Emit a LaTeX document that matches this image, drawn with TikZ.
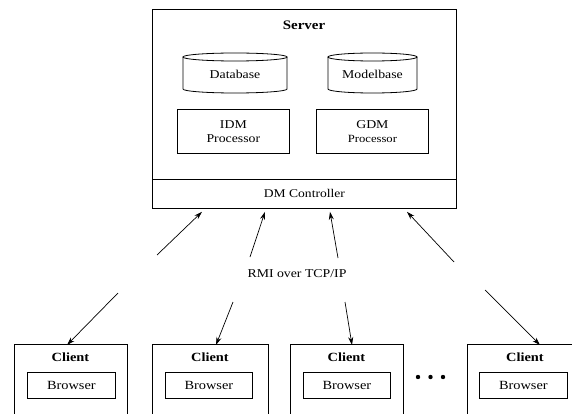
\documentclass[tikz,border=0pt]{standalone}
\usepackage{fontspec}
\setmainfont[FakeStretch=1.15]{Liberation Serif}
\usetikzlibrary{arrows.meta,calc}
\begin{document}
\begin{tikzpicture}[x=1pt,y=1pt,
  box/.style={draw, line width=0.8pt, inner sep=0pt, anchor=north west},
  drumline/.style={line width=0.8pt},
  link/.style={line width=0.7pt, -{Stealth[length=8pt,width=5pt]}},
  txt/.style={inner sep=0pt, align=center, font=\fontsize{12}{14}\selectfont},
  head/.style={inner sep=0pt, font=\fontsize{13}{15}\selectfont\bfseries}]
\useasboundingbox (0,0) rectangle (572,-414);
\clip (0,0) rectangle (572,-414);

% ---- server ----
\node[box, minimum width=304pt, minimum height=199pt] (srv) at (152,-9) {};
\node[box, minimum width=304pt, minimum height=29pt] (ctrl) at (152,-179) {};
\node[head] (srvlbl) at (304,-25) {Server};
\node[txt, font=\fontsize{11.8}{13}\selectfont] (ctrllbl) at (ctrl.center) {DM Controller};

% databases drawn as drums
\draw[drumline] (183,-57) -- (183,-89)
  arc[start angle=180,end angle=360,x radius=52pt,y radius=4pt] -- (287,-57);
\draw[drumline] (235,-57) ellipse[x radius=52pt,y radius=4pt];
\node[txt] (db) at (235,-74) {Database};

\draw[drumline] (328,-57) -- (328,-89)
  arc[start angle=180,end angle=360,x radius=44.5pt,y radius=4pt] -- (417,-57);
\draw[drumline] (372.5,-57) ellipse[x radius=44.5pt,y radius=4pt];
\node[txt] (mb) at (372.5,-74) {Modelbase};

% processors
\node[box, minimum width=112pt, minimum height=44pt] (idm) at (177,-109) {};
\node[txt] (idmlbl) at (idm.center) {IDM\\Processor};
\node[box, minimum width=112pt, minimum height=44pt] (gdm) at (316,-109) {};
\node[txt] (gdmlbl) at (gdm.center) {GDM\\{\fontsize{11}{13}\selectfont Processor}};

% ---- network ----
\node[txt] (rmi) at (297,-274) {RMI over TCP/IP};

\coordinate (u1) at (157,-255);
\coordinate (u2) at (250,-257);
\coordinate (u3) at (338,-258);
\coordinate (u4) at (454,-262);
\draw[link] (u1) -- ($(ctrl.south west)+(50,-3)$);
\draw[link] (u2) -- ($(ctrl.south west)+(113,-3)$);
\draw[link] (u3) -- ($(ctrl.south west)+(178,-3)$);
\draw[link] (u4) -- ($(ctrl.south west)+(255,-3)$);

% ---- clients ----
\foreach \i/\x/\w in {1/14/113, 2/152/116, 3/290/113, 4/467/116} {
  \node[box, minimum width=\w pt, minimum height=80pt] (cl\i) at (\x,-344) {};
  \node[head, font=\fontsize{12.5}{14}\selectfont\bfseries] (cl\i lbl) at ($(cl\i.north west)+(0.5*\w,-13)$) {Client};
}
\node[box, minimum width=88pt, minimum height=26pt] (br1) at (27,-372) {};
\node[box, minimum width=87pt, minimum height=26pt] (br2) at (165,-372) {};
\node[box, minimum width=87pt, minimum height=26pt] (br3) at (303,-372) {};
\node[box, minimum width=88pt, minimum height=26pt] (br4) at (479,-372) {};
\foreach \i in {1,...,4} {
  \node[txt, font=\fontsize{12.5}{14}\selectfont] (br\i lbl) at (br\i.center) {Browser};
}

\coordinate (d1) at (118,-293);
\coordinate (d2) at (233,-302);
\coordinate (d3) at (345,-302);
\coordinate (d4) at (485,-290);
\draw[link] (d1) -- ($(cl1.north west)+(53,-1)$);
\draw[link] (d2) -- ($(cl2.north west)+(64,-1)$);
\draw[link] (d3) -- ($(cl3.north west)+(62,-1)$);
\draw[link] (d4) -- ($(cl4.north west)+(73,-1)$);

% ellipsis between the clients
\foreach \x in {418,430.5,443} \fill (\x,-377) circle (2.2pt);
\end{tikzpicture}
\end{document}
